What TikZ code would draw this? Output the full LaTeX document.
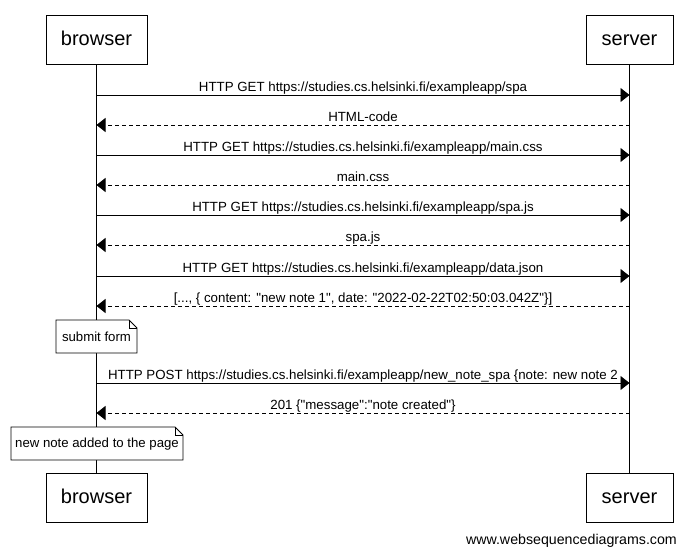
\documentclass[tikz,border=0pt]{standalone}
\usepackage{fontspec}
\setmainfont[Ligatures=NoCommon,Mapping=]{Liberation Sans}
\usetikzlibrary{arrows.meta}
\newcommand{\dq}{\symbol{34}}
\tikzset{
  actor/.style={draw, line width=0.9pt, inner sep=0pt, font=\fontsize{20}{24}\selectfont, text height=15pt, text depth=4pt},
  life/.style={line width=0.9pt},
  msg/.style={line width=0.9pt, -{Triangle[length=9pt,width=14pt]}},
  reply/.style={msg, dash pattern=on 4pt off 3pt},
  lbl/.style={font=\fontsize{13.3}{15}\selectfont, anchor=base, inner sep=0pt, yshift=4pt},
  notebox/.style={line width=0.9pt, fill=white},
  notetext/.style={font=\fontsize{13.2}{15}\selectfont, inner sep=0pt},
}
\begin{document}
\begin{tikzpicture}[x=1pt,y=-1pt]
\useasboundingbox (0,0) rectangle (687,557);
% actors
\node[actor, minimum width=101pt, minimum height=49pt] (bt) at (96.5,39.5) {browser};
\node[actor, minimum width=87pt, minimum height=49pt] (st) at (629.5,39.5) {server};
\node[actor, minimum width=101pt, minimum height=49pt] (bb) at (96.5,497.5) {browser};
\node[actor, minimum width=87pt, minimum height=49pt] (sb) at (629.5,497.5) {server};
% lifelines
\draw[life] (bt.south) -- (bb.north);
\draw[life] (st.south) -- (sb.north);
% message coordinates
\foreach \i/\y in {1/95,2/125,3/155,4/185,5/215,6/245,7/276,8/306,9/383,10/413}{
  \coordinate (b\i) at (96.5,\y);
  \coordinate (s\i) at (629.5,\y);
}
\draw[msg] (b1) -- node[lbl]{HTTP GET https://studies.cs.helsinki.fi/exampleapp/spa} (s1);
\draw[reply] (s2) -- node[lbl]{HTML-code} (b2);
\draw[msg] (b3) -- node[lbl]{HTTP GET https://studies.cs.helsinki.fi/exampleapp/main.css} (s3);
\draw[reply] (s4) -- node[lbl]{main.css} (b4);
\draw[msg] (b5) -- node[lbl]{HTTP GET https://studies.cs.helsinki.fi/exampleapp/spa.js} (s5);
\draw[reply] (s6) -- node[lbl]{spa.js} (b6);
\draw[msg] (b7) -- node[lbl]{HTTP GET https://studies.cs.helsinki.fi/exampleapp/data.json} (s7);
\draw[reply] (s8) -- node[lbl]{[..., \{ content: \dq new note 1\dq, date: \dq 2022-02-22T02:50:03.042Z\dq\}]} (b8);
\draw[msg] (b9) -- node[lbl]{HTTP POST https://studies.cs.helsinki.fi/exampleapp/new\_note\_spa \{note: new note 2} (s9);
\draw[reply] (s10) -- node[lbl]{201 \{\dq message\dq:\dq note created\dq\}} (b10);
% note 1
\draw[notebox] (56,320) -- (129,320) -- (137,328) -- (137,353) -- (56,353) -- cycle;
\draw[line width=0.9pt] (129,320) -- (129,328) -- (137,328);
\node[notetext] (n1) at (96.5,337) {submit form};
% note 2
\draw[notebox] (11,427) -- (175,427) -- (183,435) -- (183,460) -- (11,460) -- cycle;
\draw[line width=0.9pt] (175,427) -- (175,435) -- (183,435);
\node[notetext] (n2) at (97,444) {new note added to the page};
% watermark
\node[font=\fontsize{14.2}{16}\selectfont, anchor=east, inner sep=0pt] (wm) at (677,541) {www.websequencediagrams.com};
\end{tikzpicture}
\end{document}
